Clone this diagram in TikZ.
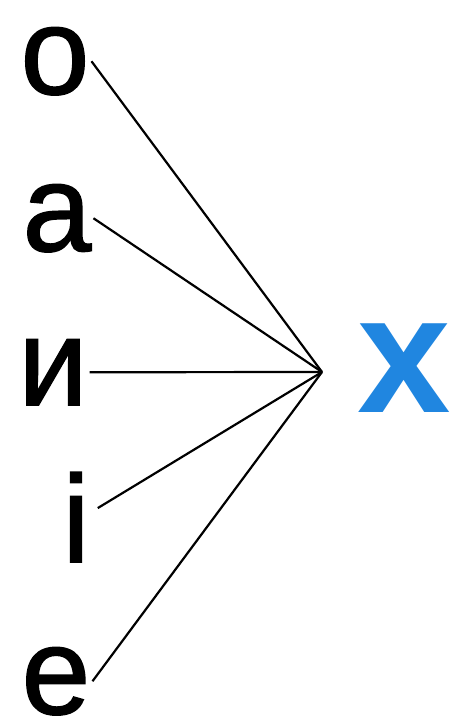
\documentclass[tikz,border=0pt]{standalone}
\usepackage{fontspec}
\setmainfont{Liberation Sans}
\newfontfamily\vowelfont[FakeBold=1.2]{Liberation Sans}
\usepackage{tikz}
\usetikzlibrary{positioning,calc}
\usepackage{xcolor}
\definecolor{letterblue}{RGB}{32,134,224}

\begin{document}
\begin{tikzpicture}[x=1pt,y=-1pt,
  vowel/.style={inner sep=0pt,outer sep=2pt,anchor=base,font=\vowelfont\fontsize{124}{124}\selectfont},
  spoke/.style={line width=2.2pt}]
\useasboundingbox (0,0) rectangle (452,724);
\node[vowel] (o) at (55,94) {о};
\node[vowel] (a) at (57,251) {а};
\node[vowel] (y) at (53,405) {и};
\node[vowel] (i) at (76,562) {і};
\node[vowel] (e) at (56,714) {е};
\node[anchor=base,inner sep=0pt,text=letterblue,font=\fontsize{168}{168}\bfseries\selectfont] (x) at (404,412) {х};
\coordinate (hub) at (322,372);
\draw[spoke] (o.east) -- (hub);
\draw[spoke] (a.east) -- (hub);
\draw[spoke] (y.east) -- (hub);
\draw[spoke] ([shift={(6,-9)}]i.east) -- (hub);
\draw[spoke] (e.east) -- (hub);
\end{tikzpicture}
\end{document}
